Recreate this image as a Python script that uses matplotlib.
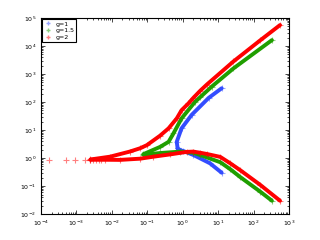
import matplotlib
matplotlib.use('Agg')
import numpy as np
import matplotlib.pyplot as plt

# g=1 (blue)
x_b_up = [0.72, 0.68, 0.93, 1.8, 5.4, 12.6]
y_b_up = [2.2, 3.8, 11.5, 35, 140, 310]
x_b_lo = [0.72, 0.89, 1.05, 2.0, 5.9, 12.6]
y_b_lo = [2.2, 1.86, 1.78, 1.29, 0.65, 0.30]

# g=1.5 (green)
x_g_up = [0.078, 0.23, 0.40, 0.55, 0.93, 2.24, 3.1, 6.6, 27, 330]
y_g_up = [1.38, 2.5, 3.8, 7.6, 26, 102, 148, 355, 1580, 16200]
x_g_lo = [0.078, 0.23, 0.85, 2.0, 3.1, 11.5, 22, 42, 155, 330]
y_g_lo = [1.32, 1.51, 1.70, 1.55, 1.29, 0.71, 0.40, 0.21, 0.063, 0.030]

# g=2 (red)
x_r_up = [0.0025, 0.0089, 0.032, 0.063, 0.098, 0.23, 0.40, 0.68, 0.93,
          1.45, 2.0, 3.1, 4.8, 27, 155, 560]
y_r_up = [0.89, 1.12, 1.7, 2.24, 2.9, 6.3, 11.5, 26, 51,
          89, 141, 250, 420, 2800, 16000, 56000]
x_r_lo = [0.0025, 0.0063, 0.017, 0.063, 0.15, 0.44, 1.3, 2.0, 3.1, 4.8,
          11.5, 22, 42, 155, 560]
y_r_lo = [0.87, 0.87, 0.86, 0.95, 1.12, 1.35, 1.66, 1.70, 1.55, 1.40,
          1.10, 0.65, 0.37, 0.11, 0.030]
x_r_tail = [0.00017, 0.0005, 0.00093, 0.0017, 0.0025, 0.003, 0.0036, 0.0043, 0.005]
y_r_tail = [0.83, 0.83, 0.84, 0.85, 0.86, 0.86, 0.86, 0.87, 0.87]

blue = (0.2, 0.3, 1.0)
green = (0.12, 0.62, 0.0)
red = (1.0, 0.0, 0.0)

fig = plt.figure(figsize=(3.2, 2.4), dpi=100)
ax = fig.add_axes([0.128, 0.108, 0.775, 0.817])

for xs, ys, c in [(x_b_up, y_b_up, blue), (x_b_lo, y_b_lo, blue),
                  (x_g_up, y_g_up, green), (x_g_lo, y_g_lo, green),
                  (x_r_up, y_r_up, red), (x_r_lo, y_r_lo, red)]:
    ax.plot(xs, ys, '-', color=c, lw=2.8, solid_capstyle='round',
            solid_joinstyle='round')
    ax.plot(xs, ys, '+', color=c, ms=4, mew=0.8, alpha=0.5)

ax.plot(x_r_tail, y_r_tail, '+', color=red, ms=4, mew=0.8, alpha=0.5)

# legend
hb, = ax.plot([], [], '+', color=blue, alpha=0.5, ms=3.5, label='g=1')
hg, = ax.plot([], [], '+', color=green, alpha=0.5, ms=3.5, label='g=1.5')
hr, = ax.plot([], [], '+', color=red, alpha=0.5, ms=3.5, label='g=2')
leg = ax.legend(handles=[hb, hg, hr], loc='upper left', fontsize=4.5,
                fancybox=False, edgecolor='black', framealpha=1,
                borderaxespad=0.2, handlelength=1.2, handletextpad=0.6,
                labelspacing=0.25, borderpad=0.3)
leg.get_frame().set_linewidth(0.8)

ax.set_xscale('log')
ax.set_yscale('log')
ax.set_xlim(1e-4, 1e3)
ax.set_ylim(1e-2, 1e5)
ax.tick_params(which='both', direction='in', top=True, right=True,
               labelsize=4.5, width=0.5)
ax.tick_params(which='major', length=3)
ax.tick_params(which='minor', length=1.5)
for s in ax.spines.values():
    s.set_linewidth(0.8)

plt.savefig('out.png', dpi=100)
plt.close()
